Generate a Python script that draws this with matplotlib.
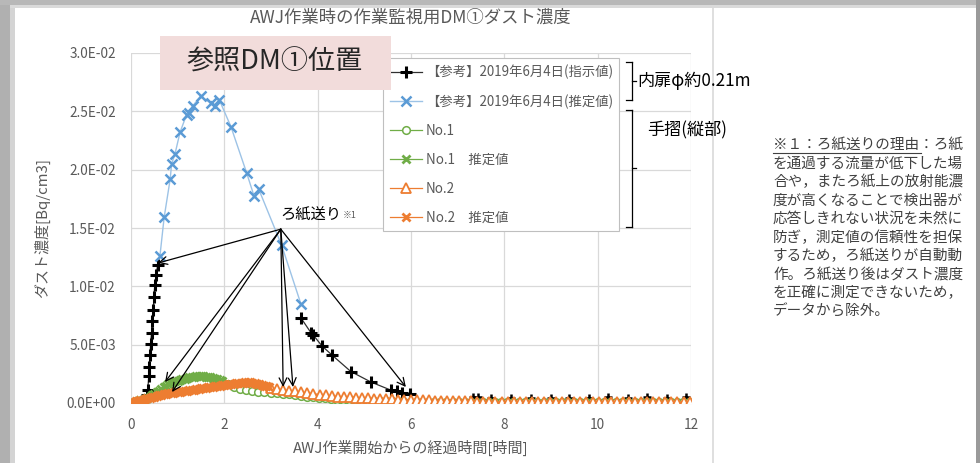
import numpy as np
import matplotlib
matplotlib.use("Agg")
import matplotlib.pyplot as plt
from matplotlib.lines import Line2D
from matplotlib.patches import Rectangle

plt.rcParams['font.family'] = ['Noto Sans CJK JP', 'DejaVu Sans']

W, H = 980, 463


def fx(px):
    return px / W


def fy(py):
    return 1 - py / H


# ---- data (dust concentration, Bq/cm3) ----
# 【参考】指示値: NaN marks the gap after the filter feed
ref_meas_t = [0.24, 0.34, 0.36, 0.38, 0.39, 0.41, 0.42, 0.44, 0.46, 0.48, 0.49, 0.51, 0.54, 0.57,
              np.nan,
              3.64, 3.86, 3.91, 4.09, 4.31, 4.71, 5.14, 5.57, 5.69, 5.80, 5.98]
ref_meas_y = [0.0000, 0.0007, 0.0011, 0.0023, 0.0031, 0.0041, 0.0051, 0.0060, 0.0070, 0.0080,
              0.0091, 0.0101, 0.0110, 0.0118,
              np.nan,
              0.0073, 0.0060, 0.0058, 0.0049, 0.0041, 0.0027, 0.0018, 0.0011, 0.0010, 0.0009, 0.0008]
ref_late_t = [7.32, 7.43, 7.71, 8.14, 8.57, 8.99, 9.39, 9.82, 10.22, 10.65, 11.06, 11.48, 11.89]
ref_late_y = [0.0005, 0.0005, 0.0004, 0.0004, 0.0004, 0.0004, 0.0004, 0.0004, 0.0005, 0.0004,
              0.0005, 0.0004, 0.0005]

# 【参考】推定値
ref_est_t = [0.62, 0.71, 0.84, 0.87, 0.94, 1.05, 1.19, 1.25, 1.33, 1.49, 1.71, 1.80, 1.89,
             2.14, 2.48, 2.64, 2.74, 3.23, 3.64]
ref_est_y = [0.0126, 0.0159, 0.0192, 0.0205, 0.0213, 0.0232, 0.0247, 0.0249, 0.0255, 0.0263,
             0.0257, 0.0255, 0.0260, 0.0237, 0.0197, 0.0177, 0.0183, 0.0135, 0.0085]

# No.1 推定値 (sampled every 0.05 h from t=0), values in 1e-3 Bq/cm3
no1_est_start, no1_est_step = 0.0, 0.05
no1_est_y = [0.05, 0.08, 0.12, 0.18, 0.24, 0.30, 0.37, 0.45, 0.55, 0.66,
             0.78, 0.92, 1.06, 1.20, 1.38, 1.50, 1.62, 1.72, 1.80, 1.86,
             1.92, 1.98, 2.04, 2.10, 2.15, 2.20, 2.24, 2.27, 2.30, 2.30,
             2.29, 2.28, 2.26, 2.23, 2.20, 2.15, 2.08, 2.02, 1.95, 1.88]

# No.1 (sampled every 0.13 h from t=1.95), 1e-3 Bq/cm3
no1_start, no1_step = 1.95, 0.13
no1_y = [1.83, 1.65, 1.40, 1.20, 1.10, 1.00, 0.95, 0.95, 0.90, 0.85,
         0.80, 0.75, 0.70, 0.62, 0.55, 0.50, 0.45, 0.40, 0.35, 0.30,
         0.27, 0.24, 0.22, 0.20, 0.18, 0.17, 0.16, 0.15, 0.14, 0.13,
         0.12, 0.12, 0.11, 0.10, 0.10, 0.10, 0.09, 0.09, 0.09, 0.08,
         0.08, 0.08, 0.08, 0.07, 0.07, 0.07, 0.07, 0.07, 0.06, 0.06,
         0.06, 0.06, 0.06, 0.06, 0.05, 0.05, 0.05, 0.05, 0.05, 0.05,
         0.05, 0.05, 0.05, 0.05, 0.05, 0.05, 0.05, 0.05, 0.05, 0.05,
         0.05, 0.05, 0.05, 0.05, 0.05, 0.05, 0.05, 0.05]

# No.2 推定値 (every 0.05 h from t=0), 1e-3 Bq/cm3
no2_est_start, no2_est_step = 0.0, 0.05
no2_est_y = [0.10, 0.12, 0.15, 0.20, 0.25, 0.30, 0.35, 0.40, 0.45, 0.50,
             0.55, 0.60, 0.65, 0.70, 0.74, 0.78, 0.82, 0.85, 0.88, 0.92,
             0.95, 0.98, 1.00, 1.03, 1.06, 1.09, 1.12, 1.15, 1.18, 1.22,
             1.25, 1.28, 1.31, 1.34, 1.37, 1.40, 1.43, 1.46, 1.49, 1.52,
             1.55, 1.58, 1.60, 1.63, 1.66, 1.68, 1.70, 1.72, 1.74, 1.76,
             1.77, 1.76, 1.74, 1.70, 1.65, 1.60, 1.55, 1.50, 1.45, 1.40]

# No.2 (every 0.13 h from t=3.0), 1e-3 Bq/cm3
no2_start, no2_step = 3.0, 0.13
no2_y = [1.30, 1.20, 1.10, 1.05, 1.00, 0.95, 0.85, 0.80, 0.72, 0.65,
         0.60, 0.55, 0.50, 0.48, 0.45, 0.42, 0.40, 0.38, 0.36, 0.34,
         0.32, 0.30, 0.29, 0.28, 0.27, 0.25, 0.23, 0.21, 0.19, 0.17,
         0.16, 0.15, 0.14, 0.13, 0.12, 0.12, 0.11, 0.11, 0.10, 0.10,
         0.10, 0.10, 0.10, 0.10, 0.10, 0.10, 0.10, 0.10, 0.10, 0.10,
         0.10, 0.10, 0.10, 0.10, 0.10, 0.10, 0.10, 0.10, 0.10, 0.10,
         0.10, 0.10, 0.10, 0.10, 0.10, 0.10, 0.10, 0.10, 0.10, 0.10]

labels = ['【参考】2019年6月4日(指示値)', '【参考】2019年6月4日(推定値)',
          'No.1', 'No.1　推定値', 'No.2', 'No.2　推定値']

y_ticks = [0.0, 0.005, 0.010, 0.015, 0.020, 0.025, 0.030]
y_ticklabels = ['0.0E+00', '5.0E-03', '1.0E-02', '1.5E-02', '2.0E-02', '2.5E-02', '3.0E-02']
x_ticks = [0, 2, 4, 6, 8, 10, 12]

# filter-feed annotation: origin and arrow tips (data coords)
feed_origin = (3.21, 0.0149)
feed_tips = [(0.58, 0.0120), (0.73, 0.0018), (0.88, 0.00094),
             (3.26, 0.00137), (3.47, 0.00137), (5.89, 0.00137)]

note_lines = ['※１：ろ紙送りの理由：ろ紙',
              'を通過する流量が低下した場',
              '合や，またろ紙上の放射能濃',
              '度が高くなることで検出器が',
              '応答しきれない状況を未然に',
              '防ぎ，測定値の信頼性を担保',
              'するため，ろ紙送りが自動動',
              '作。ろ紙送り後はダスト濃度',
              'を正確に測定できないため，',
              'データから除外。']


def series_t(start, step, vals):
    return start + step * np.arange(len(vals))


C_BLUE = '#5b9bd5'
C_GREEN = '#70ad47'
C_ORANGE = '#ed7d31'
GRAY_TXT = '#595959'

fig = plt.figure(figsize=(W / 100, H / 100), dpi=100)
fig.patch.set_facecolor('white')

ax = fig.add_axes([fx(131), fy(403), (691 - 131) / W, (403 - 53) / H])

# series, in Excel draw order
ax.plot(ref_meas_t, ref_meas_y, color='#303030', lw=0.9, marker='+', ms=8, mew=2.2,
        mec='black', label=labels[0], zorder=3)
ax.plot(ref_late_t, ref_late_y, ls='none', marker='+', ms=6, mew=1.8, mec='black', zorder=3)
ax.plot(ref_est_t, ref_est_y, color='#9dc3e6', lw=1.0, marker='x', ms=6.5, mew=1.8,
        mec=C_BLUE, label=labels[1], zorder=3)
ax.plot(series_t(no1_start, no1_step, no1_y), np.array(no1_y) * 1e-3, color=C_GREEN, lw=0.9,
        marker='o', ms=5.5, mew=1.1, mfc='white', mec=C_GREEN, label=labels[2], zorder=3)
ax.plot(series_t(no1_est_start, no1_est_step, no1_est_y), np.array(no1_est_y) * 1e-3,
        color=C_GREEN, lw=0.9, marker='x', ms=6, mew=2.0, label=labels[3], zorder=3)
ax.plot(series_t(no2_start, no2_step, no2_y), np.array(no2_y) * 1e-3, color=C_ORANGE, lw=0.9,
        marker='^', ms=6.5, mew=1.3, mfc='white', mec=C_ORANGE, label=labels[4], zorder=3)
ax.plot(series_t(no2_est_start, no2_est_step, no2_est_y), np.array(no2_est_y) * 1e-3,
        color=C_ORANGE, lw=0.9, marker='x', ms=6, mew=2.0, label=labels[5], zorder=3)

ax.set_xlim(0, 12)
ax.set_ylim(0, 0.03)
ax.set_xticks(x_ticks)
ax.set_yticks(y_ticks)
ax.set_yticklabels(y_ticklabels)
ax.tick_params(length=0, labelsize=9.8, labelcolor=GRAY_TXT)
ax.tick_params(axis='y', pad=11)
ax.tick_params(axis='x', pad=11)
ax.grid(True, color='#d9d9d9', lw=0.9)
ax.set_axisbelow(True)
for s in ['top', 'right', 'left']:
    ax.spines[s].set_visible(False)
ax.spines['bottom'].set_color('#d9d9d9')

# filter-feed arrows
for tip in feed_tips:
    ax.annotate('', xy=tip, xytext=feed_origin,
                arrowprops=dict(arrowstyle='->', color='black', lw=0.9,
                                shrinkA=0, shrinkB=0, mutation_scale=14), zorder=6)
ax.text(3.19, 0.0154, 'ろ紙送り', fontsize=11, color='black', ha='left', va='bottom', zorder=6)
fig.text(fx(343), fy(215), '※1', fontsize=6.5, color=GRAY_TXT, ha='left', va='center')

leg = ax.legend(loc='upper left', bbox_to_anchor=(fx(383), fy(58)), bbox_transform=fig.transFigure,
                fontsize=9.6, labelcolor=GRAY_TXT, frameon=True, fancybox=False,
                edgecolor='#bfbfbf', framealpha=1, labelspacing=1.12, handlelength=2.4,
                handletextpad=0.3, borderpad=0.5, borderaxespad=0)
leg.get_frame().set_linewidth(0.8)

# titles
fig.text(fx(411), fy(18), 'AWJ作業時の作業監視用DM①ダスト濃度', fontsize=12.5, color=GRAY_TXT,
         ha='center', va='center')
fig.text(fx(411), fy(448), 'AWJ作業開始からの経過時間[時間]', fontsize=10.8, color=GRAY_TXT,
         ha='center', va='center')
fig.text(fx(42), fy(228), 'ダスト濃度[Bq/cm3]', fontsize=10.8, color=GRAY_TXT,
         ha='center', va='center', rotation=90)

# reference-position tag
fig.add_artist(Rectangle((fx(160), fy(90)), (391 - 160) / W, (90 - 36) / H,
                         transform=fig.transFigure, facecolor='#f2dcdb', edgecolor='none', zorder=5))
fig.text(fx(275), fy(62), '参照DM①位置', fontsize=19.5, color='#262626', ha='center', va='center',
         zorder=6)


# brackets next to the legend
def bracket(top, bottom, mid, x=632):
    for xs, ys in [([x, x], [top, bottom]), ([x - 6, x], [top, top]),
                   ([x - 6, x], [bottom, bottom]), ([x, x + 4], [mid, mid])]:
        fig.add_artist(Line2D([fx(v) for v in xs], [fy(v) for v in ys], color='black', lw=0.9,
                              transform=fig.transFigure))


bracket(62, 100, 81)
bracket(110, 227, 168)
fig.text(fx(637), fy(81), '内扉φ約0.21m', fontsize=12.3, color='black', ha='left', va='center')
fig.text(fx(647), fy(130), '手摺(縦部)', fontsize=12.3, color='black', ha='left', va='center')

# footnote
for i, line in enumerate(note_lines):
    fig.text(fx(773), fy(145 + 18.5 * i), line, fontsize=10.5, color='#404040',
             ha='left', va='center')
fig.add_artist(Line2D([fx(773), fx(921)], [fy(153), fy(153)], color='#404040', lw=0.8,
                      transform=fig.transFigure))

# slide frame
fig.add_artist(Line2D([fx(713), fx(713)], [fy(8), fy(463)], color='#d9d9d9', lw=1.2,
                      transform=fig.transFigure))
fig.add_artist(Rectangle((0, 0), fx(10), 1, transform=fig.transFigure, facecolor='#b0b0b0',
                         edgecolor='none', zorder=1))
fig.add_artist(Rectangle((fx(10), 0), fx(5), 1, transform=fig.transFigure, facecolor='#d4d4d4',
                         edgecolor='none', zorder=1))
fig.add_artist(Rectangle((0, fy(5)), 1, 5 / H, transform=fig.transFigure, facecolor='#b8b8b8',
                         edgecolor='none', zorder=1))
fig.add_artist(Rectangle((fx(10), fy(8)), 1, 3 / H, transform=fig.transFigure, facecolor='#dadada',
                         edgecolor='none', zorder=1))
fig.add_artist(Rectangle((fx(976), 0), fx(4), 1, transform=fig.transFigure, facecolor='#9a9a9a',
                         edgecolor='none', zorder=1))

fig.savefig('out.png', dpi=100)
